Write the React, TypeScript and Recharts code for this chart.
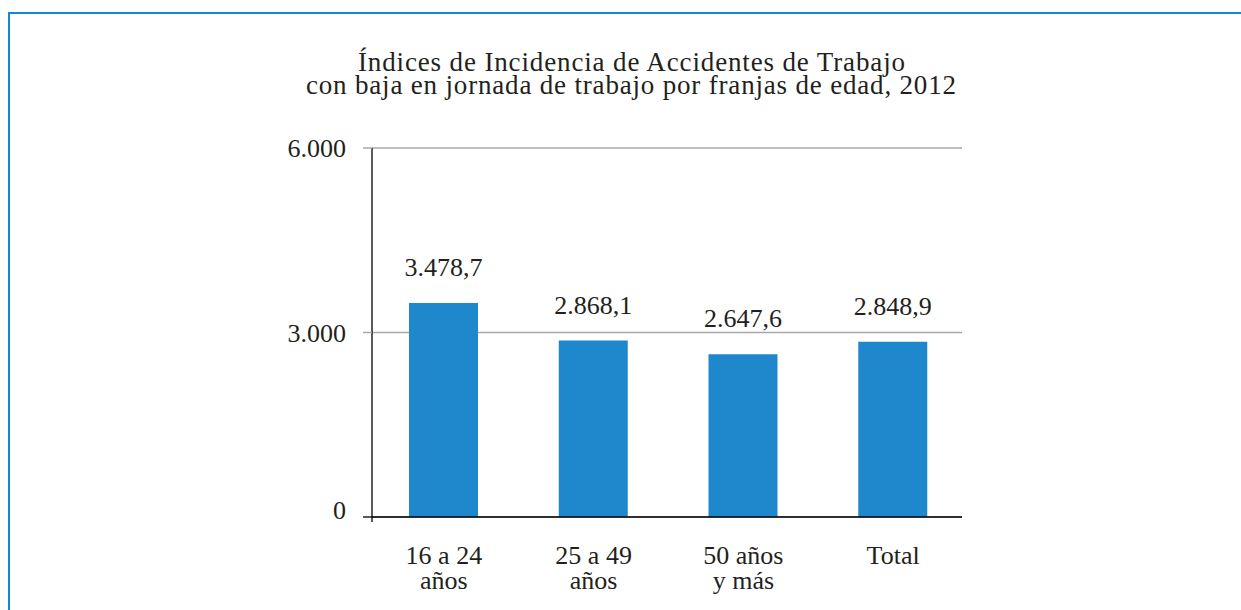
import React from "react";
import { BarChart, Bar, XAxis, YAxis, CartesianGrid, LabelList } from "recharts";

const categories: string[][] = [
  ["16 a 24", "años"],
  ["25 a 49", "años"],
  ["50 años", "y más"],
  ["Total"],
];
const values: number[] = [3478.7, 2868.1, 2647.6, 2848.9];
const yTicks: number[] = [0, 3000, 6000];
const titleLines: string[] = [
  "Índices de Incidencia de Accidentes de Trabajo",
  "con baja en jornada de trabajo por franjas de edad, 2012",
];

const data = categories.map((c, i) => ({ name: c.join(" "), lines: c, value: values[i] }));

const FONT = "'Liberation Serif', 'Times New Roman', serif";
const TEXT = "#231f20";
const BAR = "#1f88cc";
const GRID = "#a8a8a8";

const groupThousands = (s: string) => s.replace(/\B(?=(\d{3})+(?!\d))/g, ".");
const fmtTick = (v: number) => groupThousands(String(Math.round(v)));
const fmtValue = (v: number) => {
  const [i, d] = v.toFixed(1).split(".");
  return groupThousands(i) + "," + d;
};

const TICK_SIZE = 9;
const TICK_MARGIN = 17;

const YTick = (props: any) => {
  const { x, y, payload } = props;
  const v = payload.value as number;
  const axisX = x + TICK_SIZE + TICK_MARGIN;
  const isZero = v === 0;
  return (
    <g>
      <line
        x1={axisX - TICK_SIZE}
        x2={axisX}
        y1={y}
        y2={y}
        stroke={isZero ? "#000" : GRID}
        strokeWidth={isZero ? 1.3 : 1.5}
      />
      {isZero && <line x1={axisX} x2={axisX} y1={y} y2={y + 5} stroke="#000" strokeWidth={1.3} />}
      <text
        x={x}
        y={isZero ? y + 2 : y + 9}
        textAnchor="end"
        fontFamily={FONT}
        fontSize={26}
        fill={TEXT}
      >
        {fmtTick(v)}
      </text>
    </g>
  );
};

const XTick = (props: any) => {
  const { x, y, payload, index } = props;
  const lines = categories[index] ?? [String(payload.value)];
  return (
    <text x={x} y={y} textAnchor="middle" fontFamily={FONT} fontSize={26} fill={TEXT}>
      {lines.map((l, i) => (
        <tspan key={i} x={x} y={y + 39 + i * 25}>
          {l}
        </tspan>
      ))}
    </text>
  );
};

export default function App() {
  return (
    <div
      style={{
        position: "fixed",
        left: 0,
        top: 0,
        width: 1241,
        height: 610,
        overflow: "hidden",
        background: "#fff",
      }}
    >
      <div
        style={{
          position: "absolute",
          left: 8,
          top: 12,
          width: 1241,
          height: 610,
          borderTop: "2px solid #1486d4",
          borderLeft: "2px solid #1486d4",
          boxSizing: "border-box",
        }}
      />
      <svg style={{ position: "absolute", left: 0, top: 0 }} width={1241} height={120}>
        <text
          x={358}
          y={71}
          textLength={547}
          lengthAdjust="spacing"
          fontFamily={FONT}
          fontSize={27}
          fill={TEXT}
        >
          {titleLines[0]}
        </text>
        <text
          x={306}
          y={94}
          textLength={650}
          lengthAdjust="spacing"
          fontFamily={FONT}
          fontSize={27}
          fill={TEXT}
        >
          {titleLines[1]}
        </text>
      </svg>
      <div style={{ position: "absolute", left: 8, top: 8 }}>
        <BarChart
          width={1225}
          height={594}
          data={data}
          margin={{ top: 140, right: 271, bottom: 0, left: 300 }}
        >
          <CartesianGrid horizontal vertical={false} stroke={GRID} strokeWidth={1.5} />
          <XAxis
            dataKey="name"
            height={85}
            tickLine={false}
            axisLine={{ stroke: "#000", strokeWidth: 1.3 }}
            padding={{ left: -3, right: -6 }}
            tick={<XTick />}
            interval={0}
          />
          <YAxis
            width={64}
            domain={[0, 6000]}
            ticks={yTicks}
            tickLine={false}
            tickSize={TICK_SIZE}
            tickMargin={TICK_MARGIN}
            axisLine={{ stroke: "#000", strokeWidth: 1.3 }}
            tick={<YTick />}
            interval={0}
          />
          <Bar dataKey="value" fill={BAR} barSize={69} isAnimationActive={false}>
            <LabelList
              dataKey="value"
              position="top"
              offset={27}
              formatter={(v: any) => fmtValue(Number(v))}
              style={{ fontFamily: FONT, fontSize: 26, fill: TEXT }}
            />
          </Bar>
        </BarChart>
      </div>
    </div>
  );
}
